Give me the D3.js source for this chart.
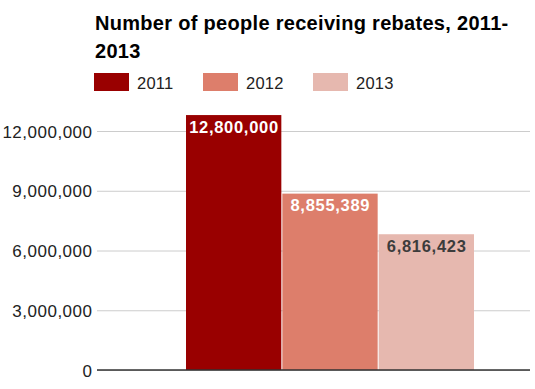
<!DOCTYPE html>
<html><head><meta charset="utf-8">
<script src="https://cdn.jsdelivr.net/npm/d3@7"></script>
<style>body{margin:0;background:#fff}svg{display:block;font-family:Arial,"Liberation Sans",sans-serif}</style>
</head><body><svg id="c" width="535" height="389"></svg>
<script>
const titleLines = ["Number of people receiving rebates, 2011-", "2013"];
const series = ["2011", "2012", "2013"];
const values = [12800000, 8855389, 6816423];
const colors = ["#990000", "#dd7e6b", "#e6b8af"];
const labelColors = ["#ffffff", "#ffffff", "#3c3c3c"];
const yTicks = [0, 3000000, 6000000, 9000000, 12000000];

const svg = d3.select("#c");
const fmt = d3.format(",");
const y = d3.scaleLinear().domain([0, 12000000]).range([370, 131]);
const x = d3.scaleBand().domain(series).range([186, 474]).paddingInner(1/96).paddingOuter(0);
const gx0 = 97, gx1 = 530;

// title
svg.append("g").selectAll("text").data(titleLines).join("text")
  .attr("x", 95).attr("y", (d, i) => 30 + i * 27.5)
  .attr("font-size", 20).attr("font-weight", "bold").attr("fill", "#000")
  .attr("letter-spacing", 0.3)
  .text(d => d);

// legend
const legX = [94, 203, 313];
const lg = svg.append("g").selectAll("g").data(series).join("g")
  .attr("transform", (d, i) => `translate(${legX[i]},73)`);
lg.append("rect").attr("width", 35).attr("height", 18).attr("fill", (d, i) => colors[i]);
lg.append("text").attr("x", 43).attr("y", 15.5).attr("font-size", 16.5).attr("fill", "#222")
  .attr("letter-spacing", 0.2).text(d => d);

// gridlines + y axis
const yAxis = d3.axisLeft(y).tickValues(yTicks).tickFormat(fmt).tickSize(-(gx1 - gx0)).tickPadding(5);
const ya = svg.append("g").attr("transform", `translate(${gx0},0)`).call(yAxis);
ya.select(".domain").remove();
ya.selectAll(".tick line").attr("stroke", "#cccccc");
ya.selectAll(".tick text").attr("font-size", 17).attr("fill", "#222")
  .attr("font-family", "Arial,'Liberation Sans',sans-serif").attr("dy", "0.36em")
  .attr("letter-spacing", 0.5).attr("dx", 0.5);

// bars
svg.append("g").selectAll("rect").data(values).join("rect")
  .attr("x", (d, i) => x(series[i])).attr("width", x.bandwidth())
  .attr("y", d => y(d)).attr("height", d => y(0) - y(d))
  .attr("fill", (d, i) => colors[i]);

// baseline
svg.append("line").attr("x1", gx0).attr("x2", gx1).attr("y1", y(0)).attr("y2", y(0))
  .attr("stroke", "#333").attr("stroke-width", 1.5);

// value labels
svg.append("g").selectAll("text").data(values).join("text")
  .attr("x", (d, i) => x(series[i]) + x.bandwidth() / 2 + 0.35)
  .attr("y", d => y(d) + 17.5)
  .attr("text-anchor", "middle").attr("font-size", 16.5).attr("font-weight", "bold")
  .attr("letter-spacing", 0.7)
  .attr("fill", (d, i) => labelColors[i]).text(d => fmt(d));
</script></body></html>
